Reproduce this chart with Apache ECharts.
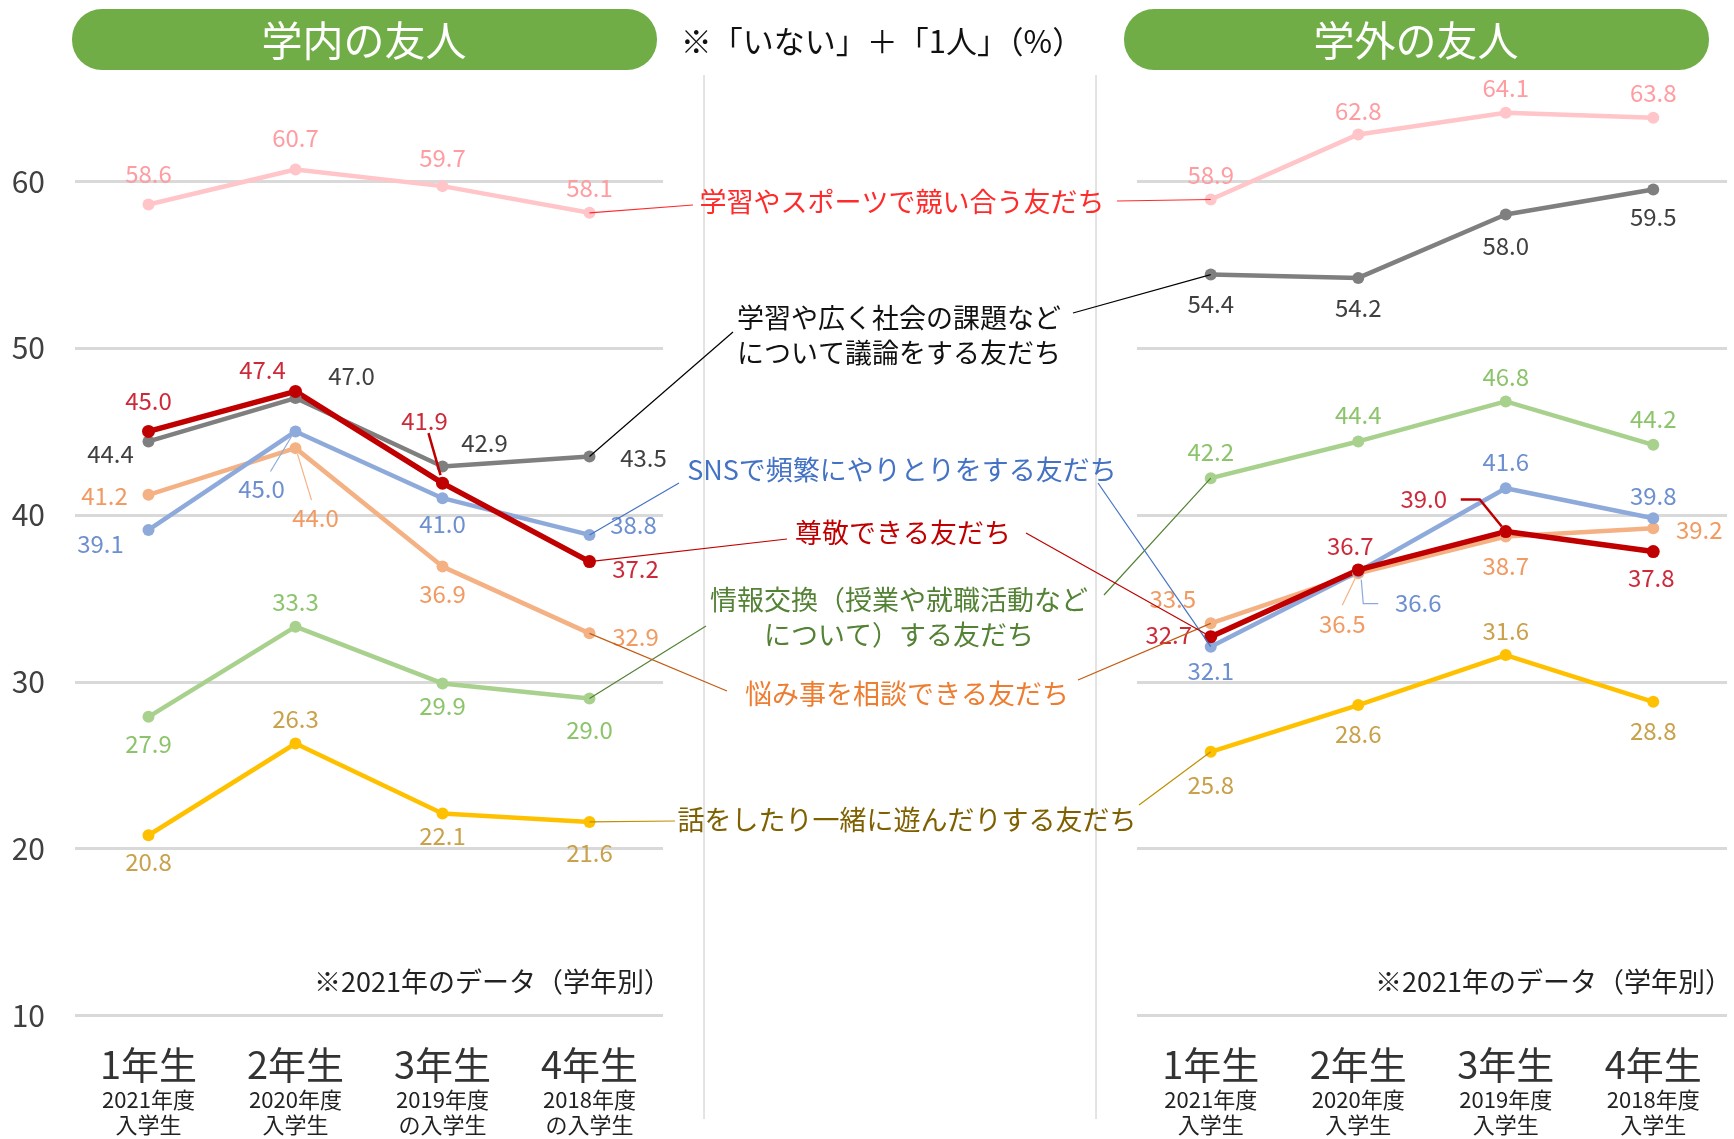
<!DOCTYPE html>
<html>
<head>
<meta charset="utf-8">
<script src="https://cdn.jsdelivr.net/npm/echarts@6/dist/echarts.min.js"></script>
<style>
  html, body { margin: 0; background: #fff; }
  #main { width: 1734px; height: 1139px; }
</style>
</head>
<body>
<div id="main"></div>
<script>
// categories / tick labels
const grades = ['1年生', '2年生', '3年生', '4年生'];
const inYears = ['2021年度\n入学生', '2020年度\n入学生', '2019年度\nの入学生', '2018年度\nの入学生'];
const outYears = ['2021年度\n入学生', '2020年度\n入学生', '2019年度\n入学生', '2018年度\n入学生'];

// 学内の友人
const inCompete = [58.6, 60.7, 59.7, 58.1];
const inDiscuss = [44.4, 47.0, 42.9, 43.5];
const inInfo    = [27.9, 33.3, 29.9, 29.0];
const inWorry   = [41.2, 44.0, 36.9, 32.9];
const inSns     = [39.1, 45.0, 41.0, 38.8];
const inRespect = [45.0, 47.4, 41.9, 37.2];
const inPlay    = [20.8, 26.3, 22.1, 21.6];

// 学外の友人
const outCompete = [58.9, 62.8, 64.1, 63.8];
const outDiscuss = [54.4, 54.2, 58.0, 59.5];
const outInfo    = [42.2, 44.4, 46.8, 44.2];
const outWorry   = [33.5, 36.5, 38.7, 39.2];
const outSns     = [32.1, 36.6, 41.6, 39.8];
const outRespect = [32.7, 36.7, 39.0, 37.8];
const outPlay    = [25.8, 28.6, 31.6, 28.8];

const FONT = "'Noto Sans CJK JP', 'Noto Sans', sans-serif";

// line / label colours and annotation style per item
const kinds = {
  compete: { line: '#ffc5c8', label: '#ff9ca1', width: 4.5, note: '学習やスポーツで競い合う友だち', noteColor: '#ff2b2b', leader: '#ff2b2b' },
  discuss: { line: '#7f7f7f', label: '#404040', width: 4.5, note: '学習や広く社会の課題など\nについて議論をする友だち', noteColor: '#111', leader: '#000' },
  info:    { line: '#a9d18e', label: '#8cc46c', width: 4.5, note: '情報交換（授業や就職活動など\nについて）する友だち', noteColor: '#548235', leader: '#548235' },
  worry:   { line: '#f4b183', label: '#f19a62', width: 4.5, note: '悩み事を相談できる友だち', noteColor: '#ed7d31', leader: '#c55a11' },
  sns:     { line: '#8eaadb', label: '#6d8fd0', width: 4.5, note: 'SNSで頻繁にやりとりをする友だち', noteColor: '#4472c4', leader: '#4472c4' },
  respect: { line: '#c00000', label: '#cc2a3a', width: 5.5, note: '尊敬できる友だち', noteColor: '#c00000', leader: '#c00000' },
  play:    { line: '#ffc000', label: '#c9a14a', width: 4.5, note: '話をしたり一緒に遊んだりする友だち', noteColor: '#7f6000', leader: '#bf9000' }
};

const inValues  = { compete: inCompete, discuss: inDiscuss, info: inInfo, worry: inWorry, sns: inSns, respect: inRespect, play: inPlay };
const outValues = { compete: outCompete, discuss: outDiscuss, info: outInfo, worry: outWorry, sns: outSns, respect: outRespect, play: outPlay };

// where each value label sits relative to its point (px)
const inLabelPos = {
  compete: [[0, -31], [0, -32], [0, -28], [0, -25]],
  discuss: [[-38, 12], [56, -22], [42, -24], [54, 1]],
  info:    [[0, 27], [0, -25], [0, 22], [0, 31]],
  worry:   [[-44, 1], [20, 70], [0, 27], [46, 4]],
  sns:     [[-48, 14], [-34, 57], [0, 26], [44, -10]],
  respect: [[0, -31], [-33, -22], [-18, -62], [46, 7]],
  play:    [[0, 27], [0, -25], [0, 22], [0, 31]]
};
const outLabelPos = {
  compete: [[0, -25], [0, -24], [0, -25], [0, -25]],
  discuss: [[0, 29], [0, 30], [0, 31], [0, 27]],
  info:    [[0, -26], [0, -27], [0, -25], [0, -26]],
  worry:   [[-38, -24], [-16, 51], [0, 29], [46, 2]],
  sns:     [[0, 24], [60, 31], [0, -26], [0, -22]],
  respect: [[-42, -2], [-8, -24], [-82, -33], [-2, 26]],
  play:    [[0, 33], [0, 29], [0, -24], [0, 29]]
};

const order = ['compete', 'discuss', 'info', 'worry', 'sns', 'respect', 'play'];

function makeSeries(g, values, labelPos) {
  return order.map(k => ({
    type: 'line',
    name: k,
    xAxisIndex: g,
    yAxisIndex: g,
    symbol: 'circle',
    symbolSize: k === 'respect' ? 13 : 12,
    lineStyle: { color: kinds[k].line, width: kinds[k].width },
    itemStyle: { color: kinds[k].line },
    emphasis: { disabled: true },
    z: 3,
    label: {
      show: true,
      position: 'inside',
      color: kinds[k].label,
      fontFamily: FONT,
      fontSize: 24,
      formatter: p => p.value.toFixed(1)
    },
    data: values[k].map((v, i) => ({ value: v, label: { offset: labelPos[k][i] } }))
  }));
}

function xAxisFor(g, years) {
  return {
    type: 'category',
    gridIndex: g,
    data: grades,
    boundaryGap: true,
    axisLine: { show: false },
    axisTick: { show: false },
    axisLabel: {
      margin: 26,
      interval: 0,
      formatter: (v, i) => `{a|${v}}\n` + years[i].split('\n').map(s => `{b|${s}}`).join('\n'),
      rich: {
        a: { fontFamily: FONT, fontSize: 38, lineHeight: 46, color: '#333' },
        b: { fontFamily: FONT, fontSize: 22, lineHeight: 25, color: '#222' }
      }
    }
  };
}

function yAxisFor(g, showLabels) {
  return {
    type: 'value',
    gridIndex: g,
    min: 10,
    max: 66,
    interval: 10,
    axisLine: { show: false },
    axisTick: { show: false },
    splitLine: { show: true, showMaxLine: false, lineStyle: { color: '#d9d9d9', width: 3 } },
    axisLabel: {
      show: showLabels,
      margin: 30,
      color: '#404040',
      fontFamily: FONT,
      fontSize: 30,
      showMaxLabel: false,
      formatter: v => (v % 10 === 0 ? String(v) : '')
    }
  };
}

const chart = echarts.init(document.getElementById('main'));

const option = {
  animation: false,
  backgroundColor: '#fff',
  grid: [
    { left: 75, width: 588, top: 81, bottom: 123.5 },
    { left: 1137, width: 590, top: 81, bottom: 123.5 }
  ],
  xAxis: [xAxisFor(0, inYears), xAxisFor(1, outYears)],
  yAxis: [yAxisFor(0, true), yAxisFor(1, false)],
  series: [...makeSeries(0, inValues, inLabelPos), ...makeSeries(1, outValues, outLabelPos)]
};

chart.setOption(option);

// annotation texts in the middle, with their leader end points
const notes = {
  compete: { at: [902, 202], left: [693, 205], right: [1117, 201] },
  discuss: { at: [899, 335], left: [733, 332], right: [1073, 313] },
  sns:     { at: [902, 470], left: [679, 483], right: [1098, 483] },
  respect: { at: [903, 533], left: [787, 539], right: [1026, 533] },
  info:    { at: [899, 617], left: [706, 626], right: [1104, 595] },
  worry:   { at: [907, 694], left: [727, 691], right: [1078, 680] },
  play:    { at: [907, 820], left: [675, 821], right: [1139, 805] }
};

// small leaders from a point to its moved label
const pointLeaders = [
  { g: 0, k: 'respect', i: 2, path: [[-2, -8], [-14, -50]] },
  { g: 0, k: 'sns', i: 1, path: [[-4, 5], [-25, 40]] },
  { g: 0, k: 'worry', i: 1, path: [[2, 6], [16, 52]] },
  { g: 1, k: 'respect', i: 2, path: [[-4, -5], [-26, -32], [-45, -32]] },
  { g: 1, k: 'sns', i: 1, path: [[3, 8], [5, 32], [20, 32]] },
  { g: 1, k: 'worry', i: 1, path: [[-3, 5], [-16, 32]] }
];

const px = (g, i, v) => chart.convertToPixel({ xAxisIndex: g, yAxisIndex: g }, [i, v]);

const graphics = [];

// headers
[[72, '学内の友人'], [1124, '学外の友人']].forEach(([x, t]) => {
  graphics.push({
    type: 'rect', z: 10,
    shape: { x: x, y: 9, width: 585, height: 61, r: 30 },
    style: { fill: '#70ad47' }
  });
  graphics.push({
    type: 'text', z: 11, x: x + 292, y: 40,
    style: { text: t, fill: '#fff', font: `41px ${FONT}`, align: 'center', verticalAlign: 'middle' }
  });
});
graphics.push({
  type: 'text', z: 11, x: 882, y: 41,
  style: { text: '※「いない」＋「1人」（%）', fill: '#111', font: `31px ${FONT}`, align: 'center', verticalAlign: 'middle' }
});

// separators
[704, 1096].forEach(x => graphics.push({
  type: 'line', z: 1,
  shape: { x1: x, y1: 75, x2: x, y2: 1119 },
  style: { stroke: '#c8c8c8', lineWidth: 1 }
}));

// year notes
[[671, 982], [1732, 982]].forEach(([x, y]) => graphics.push({
  type: 'text', z: 11, x: x, y: y,
  style: { text: '※2021年のデータ（学年別）', fill: '#222', font: `27px ${FONT}`, align: 'right', verticalAlign: 'middle' }
}));

order.forEach(k => {
  const n = notes[k];
  const pL = px(0, 3, inValues[k][3]);
  const pR = px(1, 0, outValues[k][0]);
  graphics.push({
    type: 'line', z: 5,
    shape: { x1: pL[0], y1: pL[1], x2: n.left[0], y2: n.left[1] },
    style: { stroke: kinds[k].leader, lineWidth: 1.2 }
  });
  graphics.push({
    type: 'line', z: 5,
    shape: { x1: n.right[0], y1: n.right[1], x2: pR[0], y2: pR[1] },
    style: { stroke: kinds[k].leader, lineWidth: 1.2 }
  });
  graphics.push({
    type: 'text', z: 11, x: n.at[0], y: n.at[1],
    style: {
      text: kinds[k].note, fill: kinds[k].noteColor, font: `27px ${FONT}`,
      align: 'center', verticalAlign: 'middle', lineHeight: 35
    }
  });
});

pointLeaders.forEach(l => {
  const vals = (l.g === 0 ? inValues : outValues)[l.k];
  const p = px(l.g, l.i, vals[l.i]);
  graphics.push({
    type: 'polyline', z: 5,
    shape: { points: l.path.map(d => [p[0] + d[0], p[1] + d[1]]) },
    style: { stroke: kinds[l.k].line, lineWidth: l.k === 'respect' ? 2.5 : 1.2, fill: null }
  });
});

chart.setOption({ graphic: graphics });
</script>
</body>
</html>
